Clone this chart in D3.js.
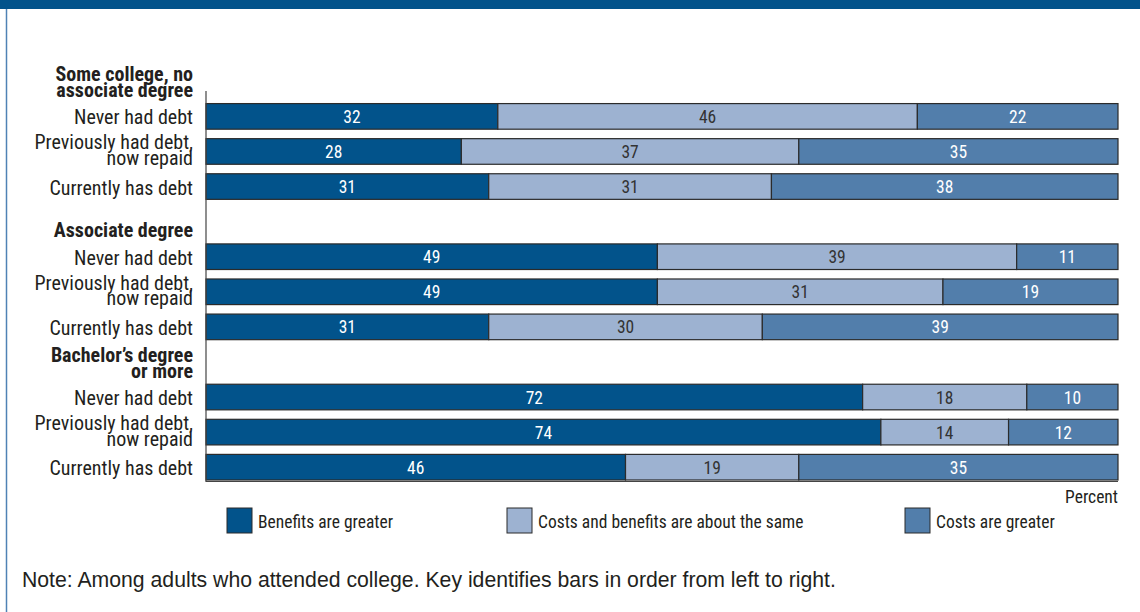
<!DOCTYPE html>
<html><head><meta charset="utf-8">
<script src="https://cdn.jsdelivr.net/npm/d3@7"></script>
<style>
body{margin:0;background:#fff;}
svg{display:block;font-family:"Roboto Condensed","Liberation Sans Narrow","Arial Narrow",sans-serif;}
</style></head>
<body><div id="chart"></div>
<script>
const groups = ["Some college, no associate degree", "Associate degree", "Bachelor’s degree or more"];
const groupLines = [["Some college, no","associate degree"],["Associate degree"],["Bachelor’s degree","or more"]];
const rowLabels = ["Never had debt", "Previously had debt, now repaid", "Currently has debt"];
const seriesNames = ["Benefits are greater", "Costs and benefits are about the same", "Costs are greater"];
const benefits = [32, 28, 31, 49, 49, 31, 72, 74, 46];
const same =     [46, 37, 31, 39, 31, 30, 18, 14, 19];
const costs =    [22, 35, 38, 11, 19, 39, 10, 12, 35];
const colors = ["#02538b", "#9db2d1", "#527eab"];
const textColors = ["#fff", "#333", "#fff"];
const noteText = "Note: Among adults who attended college. Key identifies bars in order from left to right.";

const W = 1140, H = 612;
const svg = d3.select("#chart").append("svg").attr("width", W).attr("height", H);

// frame
svg.append("rect").attr("x",0).attr("y",0).attr("width",W).attr("height",9).attr("fill","#02538b");
svg.append("line").attr("x1",6.5).attr("x2",6.5).attr("y1",9).attr("y2",H).attr("stroke","#4f82b5").attr("stroke-width",1.5);

// slots
const slots = [];
groups.forEach((g,gi)=>{
  slots.push({type:"head", gi, key:"h"+gi});
  rowLabels.forEach((r,ri)=>slots.push({type:"row", gi, ri, idx:gi*3+ri, key:"r"+gi+"_"+ri}));
});
const y = d3.scaleBand().domain(slots.map(s=>s.key)).range([68.5, 480]).paddingInner(0.27).paddingOuter(0);
const x = d3.scaleLinear().domain([0,100]).range([206, 1118]);

const rows = slots.filter(s=>s.type==="row").map(s=>{
  const vals=[benefits[s.idx], same[s.idx], costs[s.idx]];
  const tot = d3.sum(vals);
  let c=0; const segs = vals.map((v,i)=>{const o={v,i,x0:c*100/tot,x1:(c+v)*100/tot}; c+=v; return o;});
  return {...s, segs};
});

const g = svg.append("g");
rows.forEach(r=>{
  const rg = g.append("g");
  rg.selectAll("rect").data(r.segs).join("rect")
    .attr("x",d=>x(d.x0)).attr("y",y(r.key)).attr("width",d=>x(d.x1)-x(d.x0)).attr("height",y.bandwidth())
    .attr("fill",d=>colors[d.i]).attr("stroke","#2b2b2b").attr("stroke-width",1.2);
  rg.selectAll("text").data(r.segs).join("text")
    .attr("x",d=>(x(d.x0)+x(d.x1))/2).attr("y",y(r.key)+y.bandwidth()/2+6.5)
    .attr("text-anchor","middle")
    .attr("font-size",17.5).attr("fill",d=>textColors[d.i]).text(d=>d.v);
  const lbl = rowLabels[r.ri];
  const cy = y(r.key)+y.bandwidth()/2;
  const lt = svg.append("text").attr("text-anchor","end").attr("font-size",20).attr("fill","#231f20");
  if (lbl.includes(",")) {
    const parts = ["Previously had debt,","now repaid"];
    lt.append("tspan").attr("x",193).attr("y",cy-2).text(parts[0]);
    lt.append("tspan").attr("x",193).attr("y",cy+13.5).text(parts[1]);
  } else {
    lt.attr("x",193).attr("y",cy+8).text(lbl);
  }
});

// group headers
slots.filter(s=>s.type==="head").forEach(s=>{
  const lines = groupLines[s.gi];
  const base = y(s.key)+y.bandwidth()+3;
  const t = svg.append("text").attr("text-anchor","end").attr("font-size",20).attr("font-weight","bold").attr("fill","#231f20");
  lines.forEach((ln,i)=>{
    t.append("tspan").attr("x",193).attr("y",base-(lines.length-1-i)*16).text(ln);
  });
});

// axes
svg.append("line").attr("x1",206).attr("x2",206).attr("y1",91).attr("y2",482).attr("stroke","#444").attr("stroke-width",1.2);
svg.append("line").attr("x1",206).attr("x2",1118).attr("y1",481.5).attr("y2",481.5).attr("stroke","#444").attr("stroke-width",1.2);

svg.append("text").attr("x",1118).attr("y",503).attr("text-anchor","end").attr("font-size",17.5).attr("fill","#231f20").text("Percent");

// legend
const legX = [227, 507, 905];
seriesNames.forEach((n,i)=>{
  svg.append("rect").attr("x",legX[i]).attr("y",508).attr("width",25).attr("height",25)
    .attr("fill",colors[i]).attr("stroke","#2b2b2b").attr("stroke-width",1);
  svg.append("text").attr("x",legX[i]+31).attr("y",528).attr("font-size",17.5).attr("fill","#231f20").text(n);
});

const note = svg.append("text").attr("x",22).attr("y",587).attr("font-size",18)
  .attr("font-family","'Liberation Sans',Arial,sans-serif").attr("fill","#231f20").text(noteText);
const w0 = note.node().getComputedTextLength();
note.attr("font-size", Math.min(22, 18*814/w0));
</script>
</body></html>
